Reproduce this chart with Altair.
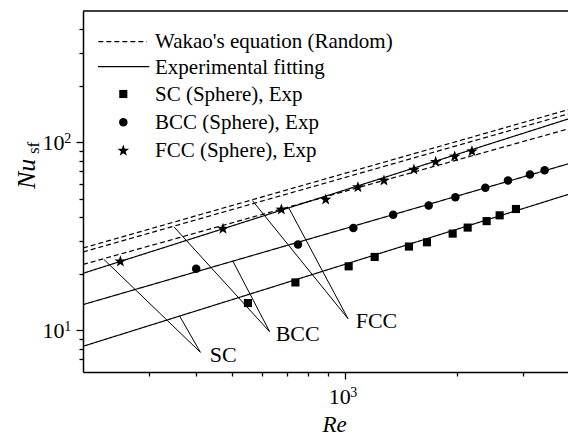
import altair as alt
import pandas as pd

FONT = "Liberation Serif"

# ---------------- data ----------------
re_ends = [200, 3950]
wakao_sc = [22.4, 117.8]
wakao_bcc = [26.1, 141.5]
wakao_fcc = [27.4, 149.2]
fit_sc = [8.22, 52.8]
fit_bcc = [13.7, 76.8]
fit_fcc = [20.1, 133.1]

sc_re = [551.7, 738.6, 1024.9, 1202.7, 1484.7, 1659, 1943, 2131, 2394.6, 2594.2, 2868]
sc_nu = [13.96, 17.98, 21.9, 24.57, 27.9, 29.4, 32.7, 35.2, 38.1, 40.9, 44.2]
bcc_re = [401.2, 750.5, 1055, 1347.8, 1676.5, 1975.5, 2375.6, 2730.6, 3125.8, 3421]
bcc_nu = [21.27, 28.6, 35.0, 41.2, 46.1, 51.0, 57.3, 62.6, 67.4, 71.0]
fcc_re = [251.7, 473.1, 677.6, 889.8, 1085, 1273.5, 1531.2, 1750.3, 1967, 2187.8]
fcc_nu = [23.25, 34.68, 43.9, 49.6, 57.7, 62.6, 71.6, 78.7, 84.0, 89.6]

# annotation anchors (data units)
ann_labels = ["SC", "BCC", "FCC"]
ann_tip_re = [411.7, 630.5, 1020.5]
ann_tip_nu = [7.64, 9.82, 11.54]
ann_dash_re = [227.6, 350.0, 567.0]
ann_dash_nu = [23.8, 35.5, 49.0]
ann_fit_re = [362.5, 503.0, 708.7]
ann_fit_nu = [11.9, 23.3, 44.9]
ann_text_re = [435.9, 654.2, 1070.0]
ann_text_nu = [6.8, 8.8, 10.25]

x_major_ticks = [1000]
y_major_ticks = [10, 100]
x_minor_ticks = [300, 400, 500, 600, 700, 800, 900, 2000, 3000]
y_minor_ticks = [7, 8, 9, 20, 30, 40, 50, 60, 70, 80, 90, 200, 300, 400]
x_exponents = ["3"]
y_exponents = ["1", "2"]

legend_texts = ["Wakao's equation (Random)", "Experimental fitting",
                "SC (Sphere), Exp", "BCC (Sphere), Exp", "FCC (Sphere), Exp"]

# ---------------- tables ----------------
rows = []
for name, kind, vals in [("wsc", "Wakao", wakao_sc), ("wbcc", "Wakao", wakao_bcc),
                         ("wfcc", "Wakao", wakao_fcc), ("fsc", "Fit", fit_sc),
                         ("fbcc", "Fit", fit_bcc), ("ffcc", "Fit", fit_fcc)]:
    for r, n in zip(re_ends, vals):
        rows.append({"series": name, "kind": kind, "Re": r, "Nu": n})
lines_df = pd.DataFrame(rows)

sc_df = pd.DataFrame({"Re": sc_re, "Nu": sc_nu})
bcc_df = pd.DataFrame({"Re": bcc_re, "Nu": bcc_nu})
fcc_df = pd.DataFrame({"Re": fcc_re, "Nu": fcc_nu})

lead_rows = []
for i in range(3):
    lead_rows.append({"x": ann_dash_re[i], "y": ann_dash_nu[i], "x2": ann_tip_re[i], "y2": ann_tip_nu[i]})
    lead_rows.append({"x": ann_fit_re[i], "y": ann_fit_nu[i], "x2": ann_tip_re[i], "y2": ann_tip_nu[i]})
lead_df = pd.DataFrame(lead_rows)
ann_df = pd.DataFrame({"label": ann_labels, "Re": ann_text_re, "Nu": ann_text_nu})

xexp_df = pd.DataFrame({"Re": x_major_ticks, "e": x_exponents})
yexp_df = pd.DataFrame({"Nu": y_major_ticks, "e": y_exponents})

one = pd.DataFrame({"t": [0]})

W, H = 485, 361
xs = alt.Scale(type="log", domain=[200, 3950], nice=False)
ys = alt.Scale(type="log", domain=[6, 500], nice=False)

common_axis = dict(grid=False, title=None, domainColor="black", tickColor="black",
                   labelColor="black", labelFont=FONT, domainWidth=1.5, tickWidth=1.3)

x_major = alt.Axis(orient="bottom", values=x_major_ticks, labelExpr="'10'", tickSize=7,
                   labelFontSize=22, labelPadding=7, labelOffset=-5.5, **common_axis)
y_major = alt.Axis(orient="left", values=y_major_ticks, labelExpr="'10'", tickSize=7,
                   labelFontSize=22, labelPadding=12, **common_axis)
x_minor = alt.Axis(orient="bottom", values=x_minor_ticks, labels=False, domain=False,
                   tickSize=4, grid=False, title=None, tickColor="black", tickWidth=1.3)
y_minor = alt.Axis(orient="left", values=y_minor_ticks, labels=False, domain=False,
                   tickSize=4, grid=False, title=None, tickColor="black", tickWidth=1.3)

lines = alt.Chart(lines_df).mark_line(color="black", strokeWidth=1.2, clip=True).encode(
    x=alt.X("Re:Q", scale=xs, axis=x_major),
    y=alt.Y("Nu:Q", scale=ys, axis=y_major),
    detail="series:N",
    strokeDash=alt.StrokeDash("kind:N", scale=alt.Scale(domain=["Wakao", "Fit"], range=[[5, 3], [1, 0]]), legend=None),
)

# superscript exponents of the tick labels
x_exp = alt.Chart(xexp_df).mark_text(font=FONT, fontSize=14, align="left", baseline="alphabetic",
                                     color="black", dx=5.5).encode(
    x=alt.X("Re:Q", scale=xs, axis=None), y=alt.value(386), text="e:N")
y_exp = alt.Chart(yexp_df).mark_text(font=FONT, fontSize=14, align="left", baseline="alphabetic",
                                     color="black", dy=1).encode(
    x=alt.value(-18.7), y=alt.Y("Nu:Q", scale=ys, axis=None), text="e:N")

leaders = alt.Chart(lead_df).mark_rule(color="black", strokeWidth=1).encode(
    x=alt.X("x:Q", scale=xs, axis=None), y=alt.Y("y:Q", scale=ys, axis=None),
    x2="x2:Q", y2="y2:Q")

ann_text = alt.Chart(ann_df).mark_text(font=FONT, fontSize=22, align="left",
                                       baseline="alphabetic", color="black").encode(
    x=alt.X("Re:Q", scale=xs, axis=None), y=alt.Y("Nu:Q", scale=ys, axis=None), text="label:N")

STAR = ("M0,-1L0.235,-0.324L0.951,-0.309L0.38,0.124L0.588,0.809L0,0.4L-0.588,0.809"
        "L-0.38,0.124L-0.951,-0.309L-0.235,-0.324Z")

SQ, CI, ST = 66, 72, 150

sc_pts = alt.Chart(sc_df).mark_point(shape="square", filled=True, size=SQ, color="black", opacity=1).encode(
    x=alt.X("Re:Q", scale=xs, axis=x_minor), y=alt.Y("Nu:Q", scale=ys, axis=y_minor))
bcc_pts = alt.Chart(bcc_df).mark_point(shape="circle", filled=True, size=CI, color="black", opacity=1).encode(
    x=alt.X("Re:Q", scale=xs, axis=None), y=alt.Y("Nu:Q", scale=ys, axis=None))
fcc_pts = alt.Chart(fcc_df).mark_point(shape=STAR, filled=True, size=ST, color="black", opacity=1).encode(
    x=alt.X("Re:Q", scale=xs, axis=None), y=alt.Y("Nu:Q", scale=ys, axis=None))

# frame top line
top_line = alt.Chart(one).mark_rule(color="black", strokeWidth=1.5).encode(
    x=alt.value(0), x2=alt.value(W), y=alt.value(0))

# axis titles
nu_t = alt.Chart(one).mark_text(text="Nu", font=FONT, fontSize=26, fontStyle="italic", angle=270,
                                align="left", baseline="alphabetic", color="black").encode(
    x=alt.value(-48), y=alt.value(178))
sf_t = alt.Chart(one).mark_text(text="sf", font=FONT, fontSize=17, angle=270,
                                align="left", baseline="alphabetic", color="black").encode(
    x=alt.value(-44), y=alt.value(143))
re_t = alt.Chart(one).mark_text(text="Re", font=FONT, fontSize=23, fontStyle="italic",
                                align="center", baseline="alphabetic", color="black").encode(
    x=alt.value(251.5), y=alt.value(420.5))

# legend
leg_dash = alt.Chart(one).mark_rule(color="black", strokeWidth=1.2, strokeDash=[5, 3]).encode(
    x=alt.value(15.3), x2=alt.value(63.7), y=alt.value(30.7))
leg_solid = alt.Chart(one).mark_rule(color="black", strokeWidth=1.2).encode(
    x=alt.value(15), x2=alt.value(66.3), y=alt.value(55.7))
leg_sq = alt.Chart(one).mark_point(shape="square", filled=True, size=SQ, color="black", opacity=1).encode(
    x=alt.value(40.3), y=alt.value(83))
leg_ci = alt.Chart(one).mark_point(shape="circle", filled=True, size=CI, color="black", opacity=1).encode(
    x=alt.value(40.3), y=alt.value(111.3))
leg_st = alt.Chart(one).mark_point(shape=STAR, filled=True, size=ST, color="black", opacity=1).encode(
    x=alt.value(40.3), y=alt.value(139.7))
leg_y = [36.7, 63, 90, 118.3, 146]
leg_txt = [alt.Chart(one).mark_text(text=t, font=FONT, fontSize=21, align="left",
                                    baseline="alphabetic", color="black").encode(
    x=alt.value(72), y=alt.value(yy)) for t, yy in zip(legend_texts, leg_y)]

chart = alt.layer(
    lines, leaders, sc_pts, bcc_pts, fcc_pts, ann_text, x_exp, y_exp, top_line,
    nu_t, sf_t, re_t, leg_dash, leg_solid, leg_sq, leg_ci, leg_st, *leg_txt
).resolve_axis(x="independent", y="independent").properties(
    width=W, height=H,
    autosize=alt.AutoSizeParams(type="none"),
    padding={"left": 83, "top": 11, "right": 0, "bottom": 66},
    background="white",
).configure_view(stroke=None)

chart.save("out.html", embed_options={"renderer": "svg", "actions": False})
